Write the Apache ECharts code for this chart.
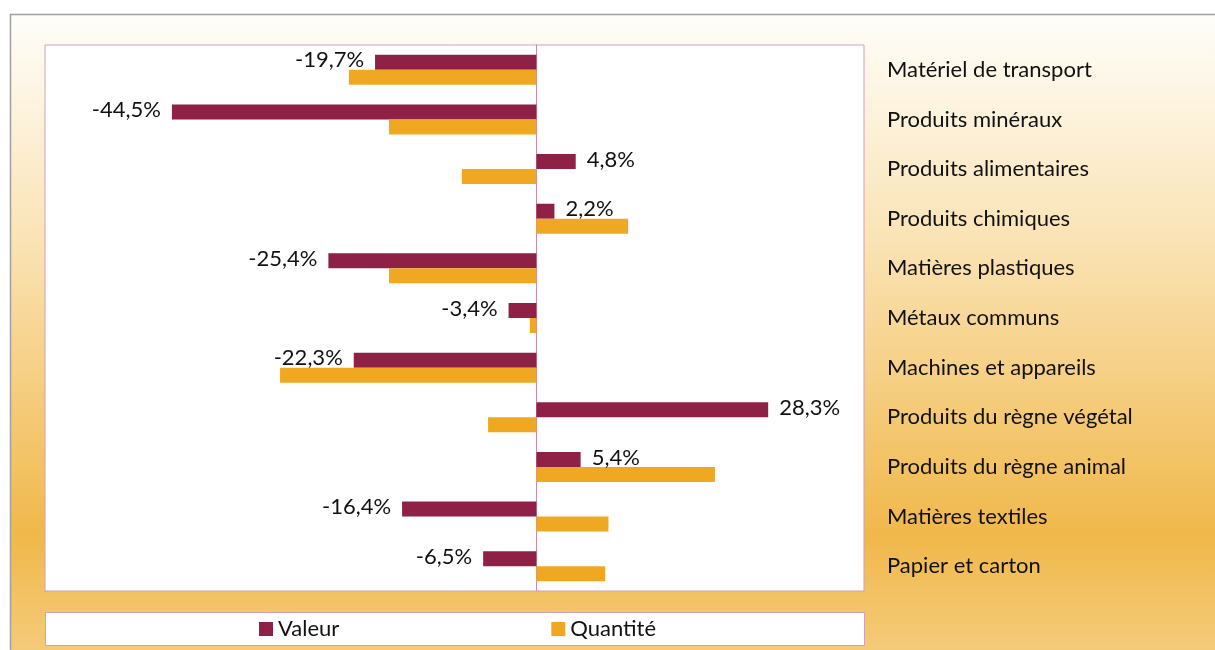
<!DOCTYPE html>
<html><head><meta charset="utf-8">
<script src="https://cdn.jsdelivr.net/npm/echarts@6/dist/echarts.min.js"></script>
<style>html,body{margin:0;padding:0;background:#fff}#c{width:1215px;height:650px}</style>
</head><body><div id="c"></div>
<script>
const categories = ["Matériel de transport","Produits minéraux","Produits alimentaires","Produits chimiques","Matières plastiques","Métaux communs","Machines et appareils","Produits du règne végétal","Produits du règne animal","Matières textiles","Papier et carton"];
const valeur = [-19.7,-44.5,4.8,2.2,-25.4,-3.4,-22.3,28.3,5.4,-16.4,-6.5];
const quantite = [-22.9,-18.0,-9.1,11.2,-18.0,-0.8,-31.3,-5.9,21.8,8.8,8.4];
const FONT = "Lato";
const chart = echarts.init(document.getElementById('c'));
chart.setOption({
  animation:false,
  textStyle:{fontFamily:FONT},
  graphic:[
    {type:'rect',z:-10,shape:{x:10.5,y:14.5,width:1220,height:650},
     style:{stroke:'#a0a0a0',lineWidth:1.5,fill:new echarts.graphic.LinearGradient(0,0,0,1,[
       {offset:0,color:'#fffefb'},{offset:0.35,color:'#fae3b4'},{offset:0.8,color:'#f0b84a'},{offset:1,color:'#f5cd80'}])}},
    {type:'rect',z:-5,shape:{x:45.5,y:612.5,width:819,height:33},style:{fill:'#fff',stroke:'#d3a0b4',lineWidth:1}}
  ],
  grid:{left:45,top:45,width:819,height:546,show:true,backgroundColor:'#fff',borderColor:'#d3a0b4',borderWidth:1},
  legend:{left:254,top:613,itemWidth:14,itemHeight:14,itemGap:212,icon:'rect',
    textStyle:{fontFamily:FONT,fontSize:22,color:'#111'},data:['Valeur','Quantité']},
  xAxis:{type:'value',min:-60,max:40,show:false,splitLine:{show:false}},
  yAxis:[
    {type:'category',data:categories,inverse:true,
     axisLine:{onZero:true,lineStyle:{color:'#d08aa8'}},
     axisTick:{length:7,lineStyle:{color:'#d08aa8'}},axisLabel:{show:false}},
    {type:'category',data:categories,inverse:true,position:'right',
     axisLine:{show:false},axisTick:{show:false},
     axisLabel:{margin:23,align:'left',fontFamily:FONT,fontSize:22,color:'#111'}}
  ],
  series:[
    {name:'Valeur',type:'bar',yAxisIndex:0,barWidth:15,barGap:'0%',
     itemStyle:{color:'#8e2145'},
     data:valeur.map(v=>({value:v,label:{position:v<0?'left':'right'}})),
     label:{show:true,distance:11,offset:[0,-2],fontFamily:FONT,fontSize:22,color:'#111',
       formatter:p=>String(p.value).replace('.',',')+'%'}},
    {name:'Quantité',type:'bar',yAxisIndex:0,barWidth:15,barGap:'0%',
     itemStyle:{color:'#f0a823'},data:quantite}
  ]
});
</script></body></html>
